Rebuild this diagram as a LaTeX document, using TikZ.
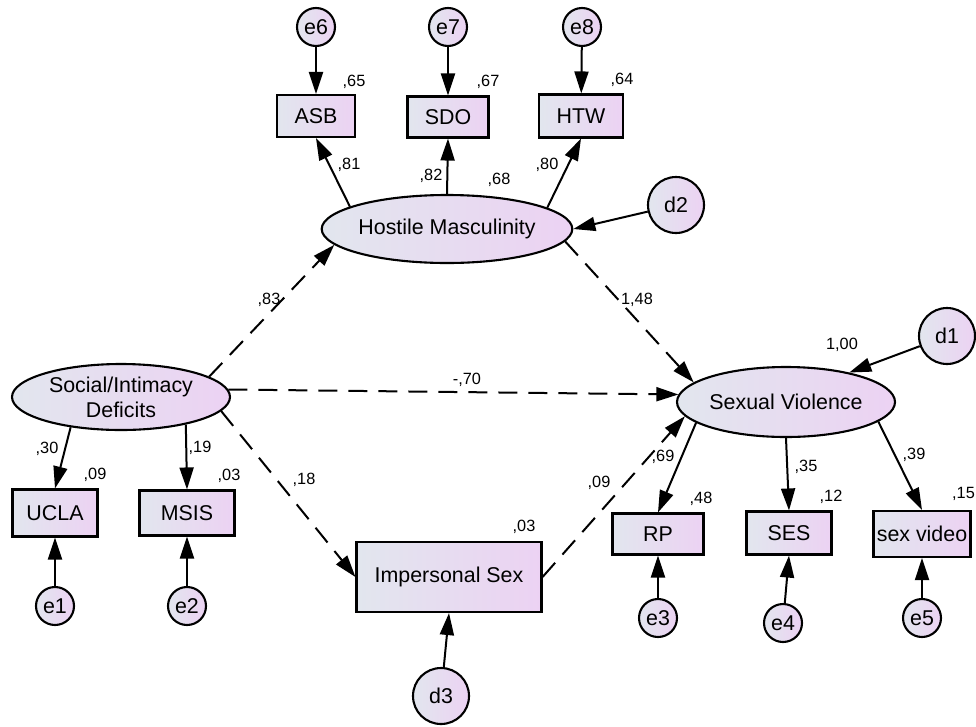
\documentclass[tikz,border=0pt]{standalone}
\usepackage{fontspec}
\setmainfont{Liberation Sans}
\usetikzlibrary{arrows.meta,shapes.geometric}
\definecolor{fillL}{RGB}{226,230,238}
\definecolor{fillR}{RGB}{236,210,243}
\begin{document}
\begin{tikzpicture}[x=1pt,y=-1pt,
  every node/.style={font=\fontsize{21.4}{25}\selectfont, inner sep=0pt},
  obs/.style 2 args={draw, line width=2.1pt, left color=fillL, right color=fillR,
    minimum width=#1, minimum height=#2},
  lat/.style 2 args={ellipse, draw, line width=2.1pt, left color=fillL, right color=fillR,
    minimum width=#1, minimum height=#2, align=center},
  err/.style={circle, draw, line width=2.1pt, left color=fillL, right color=fillR,
    minimum size=#1},
  coef/.style={font=\fontsize{16.3}{18}\selectfont},
  reg/.style={line width=2pt, -{Triangle[length=22pt,width=14pt]}},
  dreg/.style={reg, dash pattern=on 19pt off 11pt},
]
\useasboundingbox (0,0) rectangle (976,726);

% latent variables
\node[lat={219pt}{68pt}] (HM)  at (447,229) {Hostile Masculinity};
\node[lat={218pt}{66pt}] (SID) at (121,397) {Social/Intimacy\\Deficits};
\node[lat={218pt}{70pt}] (SV)  at (786,402) {Sexual Violence};

% observed indicators
\node[obs={78pt}{42pt}]  (ASB)  at (316,116) {ASB};
\node[obs={81pt}{41pt}]  (SDO)  at (448,117) {SDO};
\node[obs={84pt}{43pt}]  (HTW)  at (581,116) {HTW};
\node[obs={85pt}{47pt}]  (UCLA) at (55,513)  {UCLA};
\node[obs={95pt}{45pt}]  (MSIS) at (187,513) {MSIS};
\node[obs={185pt}{70pt}] (IS)   at (449,577) {Impersonal Sex};
\node[obs={91pt}{41pt}]  (RP)   at (658,534) {RP};
\node[obs={85pt}{43pt}]  (SES)  at (789,533) {SES};
\node[obs={97pt}{46pt}]  (SXV)  at (922,534) {sex video};

% error and disturbance terms
\node[err=38pt] (e6) at (316,27)  {e6};
\node[err=38pt] (e7) at (448,27)  {e7};
\node[err=38pt] (e8) at (582,27)  {e8};
\node[err=38pt] (e1) at (55,606)  {e1};
\node[err=38pt] (e2) at (187,606) {e2};
\node[err=38pt] (e3) at (658,618) {e3};
\node[err=38pt] (e4) at (783,623) {e4};
\node[err=38pt] (e5) at (922,618) {e5};
\node[err=56pt] (d2) at (676,205) {d2};
\node[err=56pt] (d3) at (441,696) {d3};
\node[err=56pt] (d1) at (947,336) {d1};

% residual paths
\draw[reg] (e6) -- (ASB);
\draw[reg] (e7) -- (SDO);
\draw[reg] (e8) -- (HTW);
\draw[reg] (e1) -- (UCLA);
\draw[reg] (e2) -- (MSIS);
\draw[reg] (e3) -- (RP);
\draw[reg] (e4) -- (SES.south);
\draw[reg] (e5) -- (SXV);
\draw[reg] (d2) -- (HM.east);
\draw[reg] (d3) -- (IS.south);
\draw[reg] (d1) -- (SV.25);

% measurement paths
\draw[reg] (HM.167) -- (ASB.south);
\draw[reg] (HM.north) -- (SDO.south);
\draw[reg] (HM.12) -- (HTW.south);
\draw[reg] (SID.211) -- (UCLA.north);
\draw[reg] (SID.-23.5) -- (MSIS.north);
\draw[reg] (SV.193) -- (RP.north);
\draw[reg] (SV.south) -- (SES.north);
\draw[reg] (SV.-12) -- (SXV.north);

% structural paths
\draw[dreg] (SID.13) -- (HM.188);
\draw[dreg] (SID.4) -- (SV.176);
\draw[dreg] (SID.-8) -- (IS.west);
\draw[dreg] (IS.east) -- (SV.188);
\draw[dreg] (HM.-6) -- (SV.168);

% standardized estimates
\node[coef] at (354,82)  {,65};
\node[coef] at (488,82)  {,67};
\node[coef] at (622,80)  {,64};
\node[coef] at (349,165) {,81};
\node[coef] at (431,176) {,82};
\node[coef] at (499,180) {,68};
\node[coef] at (547,165) {,80};
\node[coef] at (269,300) {,83};
\node[coef] at (637,300) {1,48};
\node[coef] at (467,380) {-,70};
\node[coef] at (47,449)  {,30};
\node[coef] at (95,475)  {,09};
\node[coef] at (200,448) {,19};
\node[coef] at (229,476) {,03};
\node[coef] at (304,480) {,18};
\node[coef] at (524,527) {,03};
\node[coef] at (599,483) {,09};
\node[coef] at (663,457) {,69};
\node[coef] at (701,499) {,48};
\node[coef] at (806,467) {,35};
\node[coef] at (831,497) {,12};
\node[coef] at (914,455) {,39};
\node[coef] at (842,345) {1,00};
\node[coef,anchor=west] at (952,494) {,15};
\end{tikzpicture}
\end{document}
